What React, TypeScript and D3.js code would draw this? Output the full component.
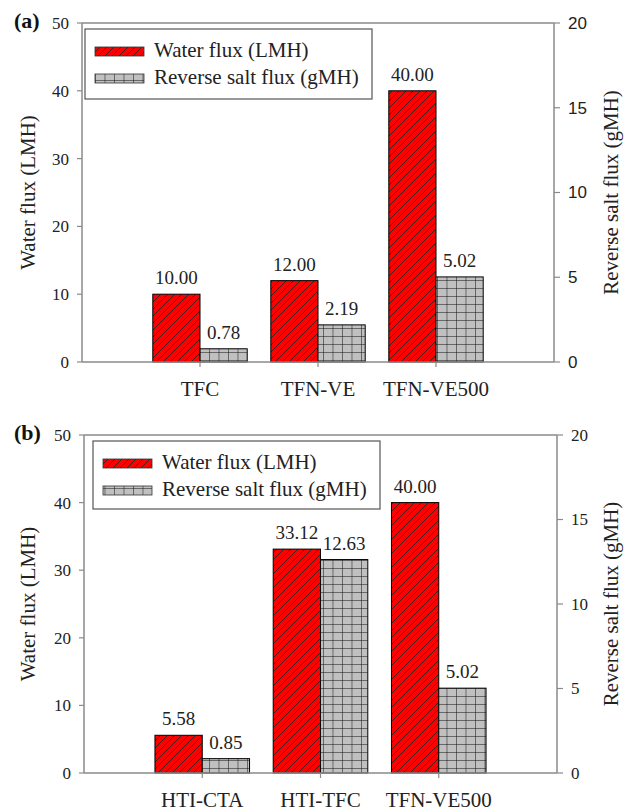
import React from 'react';
import * as d3 from 'd3';

// panel (a)
const catsA = ['TFC', 'TFN-VE', 'TFN-VE500'];
const waterA = [10.0, 12.0, 40.0];
const saltA = [0.78, 2.19, 5.02];

// panel (b)
const catsB = ['HTI-CTA', 'HTI-TFC', 'TFN-VE500'];
const waterB = [5.58, 33.12, 40.0];
const saltB = [0.85, 12.63, 5.02];

const leftTicks = [0, 10, 20, 30, 40, 50];
const rightTicks = [0, 5, 10, 15, 20];
const seriesNames = ['Water flux (LMH)', 'Reverse salt flux (gMH)'];
const leftTitle = 'Water flux (LMH)';
const rightTitle = 'Reverse salt flux (gMH)';

const SERIF = '"Liberation Serif", "Times New Roman", serif';
const SANS = '"Liberation Sans", Arial, sans-serif';
const AXIS = '#8a8a8a';

function Panel({ tag, cats, water, salt, box, legend, rightFont }) {
  const x = d3.scaleLinear().domain([0, 4]).range([box.x0, box.x1]);
  const yL = d3.scaleLinear().domain([0, 50]).range([box.y1, box.y0]);
  const yR = d3.scaleLinear().domain([0, 20]).range([box.y1, box.y0]);
  const bw = x(0.4) - x(0);
  const midY = (box.y0 + box.y1) / 2;

  return (
    <g>
      <text x={14} y={box.y0 + 5} fontFamily={SERIF} fontWeight="bold" fontSize={22} fill="#111">{tag}</text>

      {/* bars */}
      {cats.map((c, i) => {
        const cx = x(i + 1);
        return (
          <g key={c}>
            <rect x={cx - bw} y={yL(water[i])} width={bw} height={yL(0) - yL(water[i])}
              fill="url(#hatch)" stroke="#000" strokeWidth={1} />
            <rect x={cx} y={yR(salt[i])} width={bw} height={yR(0) - yR(salt[i])}
              fill="url(#grid)" stroke="#000" strokeWidth={1} />
            <text x={cx - bw / 2} y={yL(water[i]) - 10} textAnchor="middle" fontFamily={SERIF} fontSize={19} fill="#222">{water[i].toFixed(2)}</text>
            <text x={cx + bw / 2} y={yR(salt[i]) - 10} textAnchor="middle" fontFamily={SERIF} fontSize={19} fill="#222">{salt[i].toFixed(2)}</text>
            <line x1={cx} x2={cx} y1={box.y1} y2={box.y1 + 5} stroke={AXIS} strokeWidth={1.2} />
            <text x={cx} y={box.y1 + 34} textAnchor="middle" fontFamily={SERIF} fontSize={21} fill="#222">{c}</text>
          </g>
        );
      })}

      {/* frame */}
      <line x1={box.x0} x2={box.x1} y1={box.y0} y2={box.y0} stroke={AXIS} strokeWidth={1.5} />
      <line x1={box.x0} x2={box.x1} y1={box.y1} y2={box.y1} stroke={AXIS} strokeWidth={1.5} />
      <line x1={box.x0} x2={box.x0} y1={box.y0} y2={box.y1} stroke={AXIS} strokeWidth={1.5} />
      <line x1={box.x1} x2={box.x1} y1={box.y0} y2={box.y1} stroke={AXIS} strokeWidth={1.5} />

      {/* left axis */}
      {leftTicks.map(t => (
        <g key={'l' + t}>
          <line x1={box.x0 - 5} x2={box.x0} y1={yL(t)} y2={yL(t)} stroke={AXIS} strokeWidth={1.2} />
          <text x={box.x0 - 13} y={yL(t)} dy="0.35em" textAnchor="end" fontFamily={SERIF} fontSize={17} fill="#222">{t}</text>
        </g>
      ))}
      <text transform={`translate(35,${midY}) rotate(-90)`} textAnchor="middle" fontFamily={SERIF} fontSize={21} fill="#222">{leftTitle}</text>

      {/* right axis */}
      {rightTicks.map(t => (
        <g key={'r' + t}>
          <line x1={box.x1} x2={box.x1 + 6} y1={yR(t)} y2={yR(t)} stroke={AXIS} strokeWidth={1.2} />
          <text x={box.x1 + 14} y={yR(t)} dy="0.35em" fontFamily={rightFont} fontSize={17} fill="#222">{t}</text>
        </g>
      ))}
      <text transform={`translate(618,${midY}) rotate(-90)`} textAnchor="middle" fontFamily={SERIF} fontSize={21} fill="#222">{rightTitle}</text>

      {/* legend */}
      <rect x={legend.x} y={legend.y} width={287} height={legend.h} fill="#fff" stroke="#555" strokeWidth={1.2} />
      <rect x={legend.x + 10} y={legend.y + 18} width={49} height={9} fill="url(#hatch)" stroke="#333" strokeWidth={0.8} />
      <rect x={legend.x + 10} y={legend.y + 45} width={49} height={9} fill="url(#grid)" stroke="#333" strokeWidth={0.8} />
      <text x={legend.x + 69} y={legend.y + 28} fontFamily={SERIF} fontSize={21} fill="#222">{seriesNames[0]}</text>
      <text x={legend.x + 69} y={legend.y + 55} fontFamily={SERIF} fontSize={21} fill="#222">{seriesNames[1]}</text>
    </g>
  );
}

export default function App() {
  return (
    <div style={{ position: 'absolute', left: 0, top: 0 }}>
      <svg width={631} height={812} style={{ display: 'block', background: '#fff' }}>
        <defs>
          <pattern id="hatch" patternUnits="userSpaceOnUse" width={7} height={7}>
            <rect width={7} height={7} fill="#ff0000" />
            <path d="M0,7 L7,0 M-1,1 L1,-1 M6,8 L8,6" stroke="#222" strokeWidth={0.8} />
          </pattern>
          <pattern id="grid" patternUnits="userSpaceOnUse" width={9.5} height={8}>
            <rect width={9.5} height={8} fill="#c0c0c0" />
            <path d="M0,0 L9.5,0 M0,0 L0,8" stroke="#111" strokeWidth={1} />
          </pattern>
        </defs>
        <Panel tag="(a)" cats={catsA} water={waterA} salt={saltA}
          box={{ x0: 82, x1: 554, y0: 23, y1: 362 }} legend={{ x: 85, y: 29, h: 70 }} rightFont={SANS} />
        <Panel tag="(b)" cats={catsB} water={waterB} salt={saltB}
          box={{ x0: 84, x1: 557, y0: 435, y1: 773 }} legend={{ x: 93, y: 441, h: 68 }} rightFont={SERIF} />
      </svg>
    </div>
  );
}
